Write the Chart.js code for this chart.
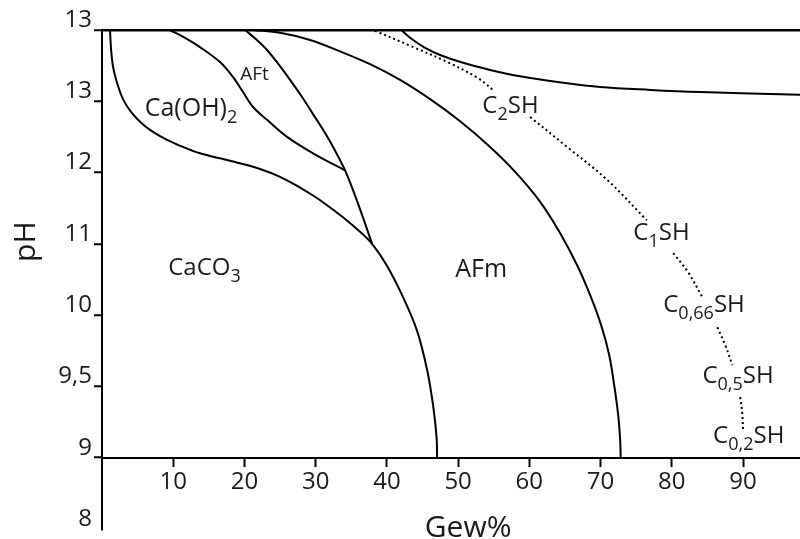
<!DOCTYPE html>
<html>
<head>
<meta charset="utf-8">
<script src="https://cdn.jsdelivr.net/npm/chart.js@4.4.1/dist/chart.umd.min.js"></script>
<style>
  body { margin: 0; background: #fff; }
  #wrap { width: 800px; height: 539px; position: relative; }
</style>
</head>
<body>
<div id="wrap"><canvas id="phChart"></canvas></div>
<script>
// pH ticks sit evenly on the axis, the labels themselves are not evenly spaced
const yTickLabels = ['8', '9', '9,5', '10', '11', '12', '13', '13'];
const xTicks = [10, 20, 30, 40, 50, 60, 70, 80, 90];

// phase boundaries, x = Gew%, y = position on the pH axis (index into yTickLabels)
const caco3Line = [
  {x: 1.12, y: 7.0}, {x: 1.26, y: 6.75}, {x: 1.54, y: 6.49}, {x: 2.11, y: 6.26},
  {x: 2.95, y: 6.03}, {x: 4.07, y: 5.85}, {x: 5.48, y: 5.70}, {x: 7.16, y: 5.57},
  {x: 9.13, y: 5.46}, {x: 11.38, y: 5.36}, {x: 13.76, y: 5.27}, {x: 16.57, y: 5.20},
  {x: 19.38, y: 5.13}, {x: 22.19, y: 5.05}, {x: 25.0, y: 4.94}, {x: 27.81, y: 4.79},
  {x: 30.06, y: 4.65}, {x: 32.16, y: 4.50}, {x: 34.13, y: 4.35}, {x: 36.1, y: 4.18},
  {x: 37.92, y: 4.0}, {x: 40.03, y: 3.69}, {x: 42.28, y: 3.25}, {x: 44.24, y: 2.78},
  {x: 45.65, y: 2.23}, {x: 46.49, y: 1.73}, {x: 46.98, y: 1.28}, {x: 47.05, y: 1.0}
];
const cohLine = [
  {x: 9.55, y: 7.0}, {x: 11.66, y: 6.89}, {x: 13.76, y: 6.76}, {x: 16.57, y: 6.55},
  {x: 18.4, y: 6.34}, {x: 19.8, y: 6.13}, {x: 21.21, y: 5.92}, {x: 23.17, y: 5.74},
  {x: 25.98, y: 5.50}, {x: 29.63, y: 5.27}, {x: 34.13, y: 5.03}
];
const aftLine = [
  {x: 20.08, y: 7.0}, {x: 21.63, y: 6.87}, {x: 23.17, y: 6.72}, {x: 24.86, y: 6.51},
  {x: 26.4, y: 6.30}, {x: 28.09, y: 6.06}, {x: 29.63, y: 5.82}, {x: 31.04, y: 5.60},
  {x: 32.44, y: 5.36}, {x: 34.13, y: 5.03}, {x: 35.96, y: 4.56}, {x: 37.92, y: 4.0}
];
const afmLine = [
  {x: 21.21, y: 7.0}, {x: 25.0, y: 6.96}, {x: 29.21, y: 6.86}, {x: 33.43, y: 6.70},
  {x: 37.64, y: 6.52}, {x: 41.85, y: 6.30}, {x: 46.07, y: 6.03}, {x: 50.28, y: 5.72},
  {x: 54.49, y: 5.36}, {x: 58.01, y: 5.01}, {x: 61.52, y: 4.59}, {x: 64.33, y: 4.15},
  {x: 66.71, y: 3.70}, {x: 68.54, y: 3.28}, {x: 70.08, y: 2.86}, {x: 71.21, y: 2.44},
  {x: 71.91, y: 2.02}, {x: 72.47, y: 1.60}, {x: 72.75, y: 1.25}, {x: 72.82, y: 1.0}
];
const topLine = [
  {x: 42.13, y: 6.99}, {x: 43.54, y: 6.87}, {x: 45.37, y: 6.75}, {x: 47.47, y: 6.65},
  {x: 50.7, y: 6.54}, {x: 54.49, y: 6.44}, {x: 58.71, y: 6.35}, {x: 64.75, y: 6.26},
  {x: 69.94, y: 6.20}, {x: 76.97, y: 6.16}, {x: 83.99, y: 6.13}, {x: 98.0, y: 6.09}
];
// C-S-H dotted line, broken where the labels sit
const cshSeg1 = [{x: 38.3, y: 6.99}, {x: 43.7, y: 6.76}, {x: 48.5, y: 6.55}, {x: 52.7, y: 6.33}, {x: 54.9, y: 6.16}];
const cshSeg2 = [{x: 60.1, y: 5.78}, {x: 65.3, y: 5.36}, {x: 70.9, y: 4.90}, {x: 76.5, y: 4.33}];
const cshSeg3 = [{x: 80.2, y: 3.87}, {x: 82.3, y: 3.60}, {x: 84.3, y: 3.25}];
const cshSeg4 = [{x: 86.4, y: 2.83}, {x: 87.5, y: 2.58}, {x: 88.5, y: 2.30}];
const cshSeg5 = [{x: 89.6, y: 1.85}, {x: 89.9, y: 1.62}, {x: 90.0, y: 1.39}];

// region labels, odd parts are subscripts
const phaseLabels = [
  {parts: ['Ca(OH)', '2'], x: 6.0, y: 5.92, size: 25},
  {parts: ['AFt'], x: 19.4, y: 6.40, size: 19},
  {parts: ['CaCO', '3'], x: 9.3, y: 3.69, size: 24},
  {parts: ['AFm'], x: 49.6, y: 3.66, size: 25},
  {parts: ['C', '2', 'SH'], x: 53.4, y: 5.96, size: 24},
  {parts: ['C', '1', 'SH'], x: 74.6, y: 4.17, size: 24},
  {parts: ['C', '0,66', 'SH'], x: 78.8, y: 3.17, size: 24},
  {parts: ['C', '0,5', 'SH'], x: 84.3, y: 2.17, size: 24},
  {parts: ['C', '0,2', 'SH'], x: 85.8, y: 1.33, size: 24}
];

const FONT = '"Open Sans", "Noto Sans", sans-serif';
const INK = '#1a1a1a';

function solid(data) {
  return { data: data, showLine: true, borderColor: '#000', borderWidth: 2, pointRadius: 0, tension: 0.35, fill: false };
}
function dotted(data) {
  return { data: data, showLine: true, borderColor: '#000', borderWidth: 2, borderDash: [2, 3], pointRadius: 0, tension: 0.35, fill: false };
}

// draws the region names and both axis titles
const textPlugin = {
  id: 'phaseText',
  afterDatasetsDraw(chart) {
    const ctx = chart.ctx;
    const x = chart.scales.x;
    const y = chart.scales.y;
    ctx.save();
    ctx.fillStyle = INK;
    ctx.textBaseline = 'alphabetic';
    ctx.textAlign = 'left';
    phaseLabels.forEach(lbl => {
      let px = x.getPixelForValue(lbl.x);
      const base = y.getPixelForValue(lbl.y) + lbl.size * 0.36;
      lbl.parts.forEach((part, i) => {
        const isSub = i % 2 === 1;
        ctx.font = (isSub ? 18 : lbl.size) + 'px ' + FONT;
        ctx.fillText(part, px, isSub ? base + 7 : base);
        px += ctx.measureText(part).width;
      });
    });

    ctx.font = '30px ' + FONT;
    ctx.textAlign = 'center';
    ctx.fillText('Gew%', x.getPixelForValue(51.4), chart.height - 2);

    ctx.translate(35, y.getPixelForValue(4.03));
    ctx.rotate(-Math.PI / 2);
    ctx.fillText('pH', 0, 0);
    ctx.restore();
  }
};

const ctx = document.getElementById('phChart').getContext('2d');
new Chart(ctx, {
  type: 'scatter',
  data: {
    datasets: [
      solid(caco3Line), solid(cohLine), solid(aftLine), solid(afmLine), solid(topLine),
      dotted(cshSeg1), dotted(cshSeg2), dotted(cshSeg3), dotted(cshSeg4), dotted(cshSeg5)
    ]
  },
  options: {
    responsive: true,
    maintainAspectRatio: false,
    animation: false,
    layout: { padding: { top: 30, bottom: 10, left: 0, right: 0 } },
    plugins: { legend: { display: false }, tooltip: { enabled: false } },
    scales: {
      x: {
        type: 'linear', min: 0, max: 98,
        position: { y: 1 },
        afterBuildTicks: s => { s.ticks = xTicks.map(v => ({ value: v })); },
        afterFit: s => { s.paddingLeft = 0; s.paddingRight = 0; },
        border: { display: true, color: '#000', width: 2 },
        grid: { drawOnChartArea: false, drawTicks: true, tickLength: 8, tickWidth: 2, tickColor: '#000', color: '#000' },
        ticks: { font: { family: FONT, size: 24 }, color: INK, padding: 2, maxRotation: 0, autoSkip: false }
      },
      y: {
        type: 'linear', min: 0, max: 7,
        afterBuildTicks: s => { s.ticks = yTickLabels.map((_, i) => ({ value: i })); },
        afterFit: s => { s.width = 102; s.paddingTop = 0; s.paddingBottom = 0; },
        border: { display: true, color: '#000', width: 2 },
        grid: {
          color: c => (c.tick && c.tick.value === 7) ? '#000' : 'rgba(0,0,0,0)',
          lineWidth: 2.5,
          tickLength: 8,
          tickWidth: 2,
          tickColor: c => (c.tick && c.tick.value === 0) ? 'rgba(0,0,0,0)' : '#000'
        },
        ticks: {
          callback: v => yTickLabels[v],
          font: { family: FONT, size: 24 }, color: INK, padding: 2, labelOffset: -10, autoSkip: false
        }
      }
    }
  },
  plugins: [textPlugin]
});
</script>
</body>
</html>
